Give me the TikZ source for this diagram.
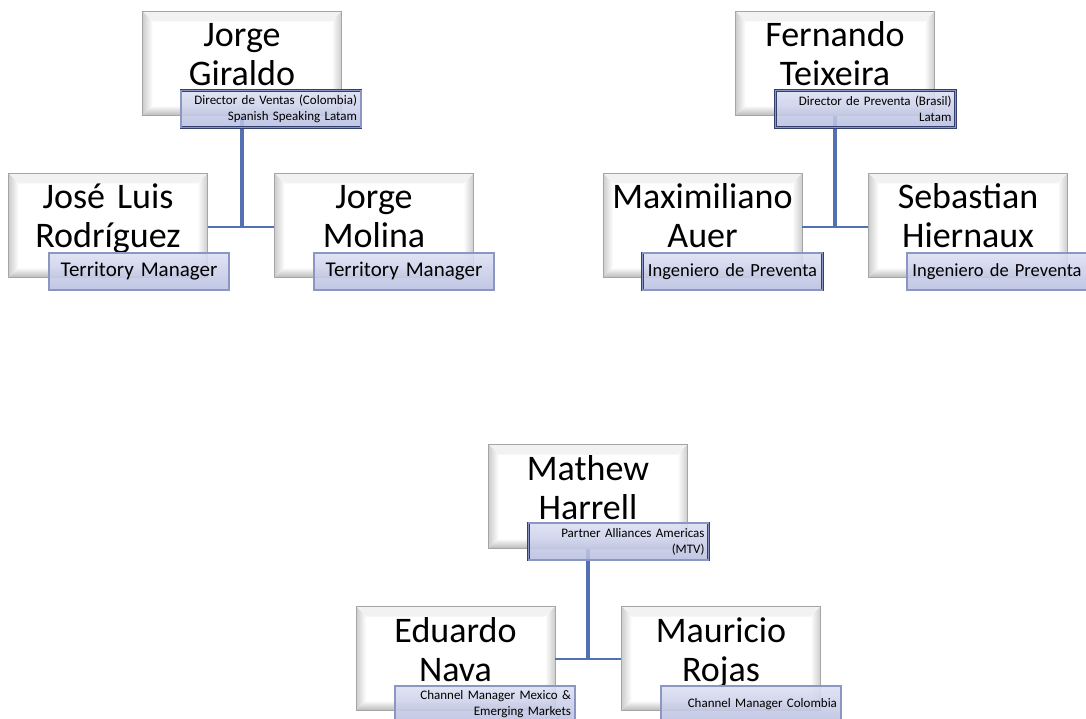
\documentclass[tikz,border=0pt]{standalone}
\usepackage{fontspec}
\setmainfont{Carlito}
\definecolor{conn}{RGB}{82,112,178}
\definecolor{roleline}{RGB}{52,64,108}
\definecolor{rolemid}{RGB}{140,150,195}
\definecolor{roletop}{RGB}{220,224,242}
\definecolor{rolebot}{RGB}{184,190,224}
\definecolor{boxline}{RGB}{165,165,165}
\newcommand\rolesmallfont{\fontsize{13}{16}\selectfont\spaceskip=5pt plus 1pt\relax}
\newcommand\rolebigfont{\fontsize{21}{24}\selectfont\spaceskip=4pt\relax}
\newcommand\roleingfont{\fontsize{18.5}{22}\selectfont\spaceskip=1.2pt\relax}
\begin{document}
\begin{tikzpicture}[x=1pt,y=-1pt,
  namebox/.style={draw=boxline, line width=0.8pt, fill=white, minimum width=199pt, minimum height=104pt, inner sep=0pt,
    path picture={
      \fill[gray!10] (path picture bounding box.north west) -- (path picture bounding box.north east)
        -- ([xshift=-10pt,yshift=-10pt]path picture bounding box.north east)
        -- ([xshift=10pt,yshift=-10pt]path picture bounding box.north west) -- cycle;
      \shade[left color=gray!40, right color=white] (path picture bounding box.north west)
        -- ([xshift=10pt,yshift=-10pt]path picture bounding box.north west)
        -- ([xshift=10pt,yshift=10pt]path picture bounding box.south west)
        -- (path picture bounding box.south west) -- cycle;
      \shade[left color=white, right color=gray!40] (path picture bounding box.north east)
        -- ([xshift=-10pt,yshift=-10pt]path picture bounding box.north east)
        -- ([xshift=-10pt,yshift=10pt]path picture bounding box.south east)
        -- (path picture bounding box.south east) -- cycle;
      \shade[top color=white, bottom color=gray!55] (path picture bounding box.south west)
        -- ([xshift=10pt,yshift=10pt]path picture bounding box.south west)
        -- ([xshift=-10pt,yshift=10pt]path picture bounding box.south east)
        -- (path picture bounding box.south east) -- cycle;
    }},
  nametext/.style={anchor=base, text width=199pt, align=center, inner sep=0pt, font=\fontsize{36}{39}\selectfont},
  rolebox/.style={draw=roleline, line width=0.8pt, double=rolemid, double distance=1.1pt,
    top color=roletop, bottom color=rolebot, fill opacity=0.88, text opacity=1,
    minimum width=180pt, minimum height=37pt, inner xsep=4pt, inner ysep=0pt, text width=172pt,
    align=right, text=black, font=\rolesmallfont},
  rolebig/.style={rolebox, align=center, font=\rolebigfont},
  roleing/.style={rolebox, align=center, font=\roleingfont},
  vline/.style={draw=conn, line width=3.5pt},
  hline/.style={draw=conn, line width=2pt}
]
\useasboundingbox (0,0) rectangle (1086,719);

% ---------- name boxes ----------
\node[namebox] (jg)  at (242,63.5) {};
\node[namebox] (jlr) at (108,225.5) {};
\node[namebox] (jm)  at (374,225.5) {};
\node[namebox] (ft)  at (835,63.5) {};
\node[namebox] (ma)  at (702.5,225.5) {};
\node[namebox] (sh)  at (968,225.5) {};
\node[namebox] (mh)  at (588,496.5) {};
\node[namebox] (en)  at (455.5,658.5) {};
\node[namebox] (mr)  at (721,658.5) {};

% ---------- junctions ----------
\coordinate (j1) at (242,227);
\coordinate (j2) at (835,227);
\coordinate (j3) at (588,659);

% ---------- connectors ----------
\draw[vline] (jg.south) -- (j1);
\draw[hline] (jlr.east |- j1) -- (jm.west |- j1);
\draw[vline] (ft.south) -- (j2);
\draw[hline] (ma.east |- j2) -- (sh.west |- j2);
\draw[vline] (mh.south) -- (j3);
\draw[hline] (en.east |- j3) -- (mr.west |- j3);

% ---------- names ----------
\node[nametext] (jg-n)  at (242,47) {Jorge\\Giraldo};
\node[nametext] (jlr-n) at (108,208.5) {José Luis\\Rodríguez};
\node[nametext] (jm-n)  at (374,208.5) {Jorge\\Molina};
\node[nametext] (ft-n)  at (835,47) {Fernando\\Teixeira};
\node[nametext] (ma-n)  at (702.5,208.5) {Maximiliano\\Auer};
\node[nametext] (sh-n)  at (968,208.5) {Sebastian\\Hiernaux};
\node[nametext] (mh-n)  at (588,480) {Mathew\\Harrell};
\node[nametext] (en-n)  at (455.5,642) {Eduardo\\Nava};
\node[nametext] (mr-n)  at (721,642) {Mauricio\\Rojas};

% ---------- roles ----------
\node[rolebox] (jg-r)  at (271,109) {Director de Ventas (Colombia)\\Spanish Speaking Latam};
\node[rolebig] (jlr-r) at (139,271.5) {Territory Manager};
\node[rolebig] (jm-r)  at (404,271.5) {Territory Manager};
\node[rolebox] (ft-r)  at (865.5,109) {Director de Preventa (Brasil)\\Latam};
\node[roleing] (ma-r)  at (732.5,271.5) {\mbox{Ingeniero de Preventa}};
\node[roleing] (sh-r)  at (997,271.5) {\mbox{Ingeniero de Preventa}};
\node[rolebox] (mh-r)  at (618.5,541.5) {Partner Alliances Americas\\(MTV)};
\node[rolebox] (en-r)  at (485,704.5) {Channel Manager Mexico \&\\Emerging Markets};
\node[rolebox] (mr-r)  at (751,704.5) {Channel Manager Colombia};
\end{tikzpicture}
\end{document}
